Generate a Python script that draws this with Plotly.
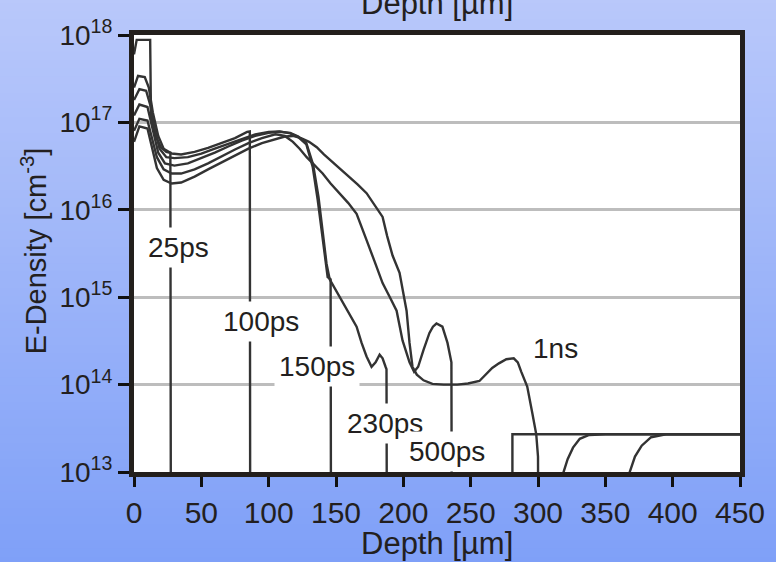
import plotly.graph_objects as go

# ---------------- data ----------------
x_ticks = [0, 50, 100, 150, 200, 250, 300, 350, 400, 450]
y_ticks = [1e13, 1e14, 1e15, 1e16, 1e17, 1e18]
y_tick_text = ["10<sup>13</sup>", "10<sup>14</sup>", "10<sup>15</sup>",
               "10<sup>16</sup>", "10<sup>17</sup>", "10<sup>18</sup>"]

x_25ps = [0, 2, 12, 12.6, 16, 20, 24, 27, 27.4]
y_25ps = [6e17, 8.8e17, 8.8e17, 1.2e17, 7e16, 5.2e16, 4.6e16, 4.5e16, 1e12]

x_100ps = [0, 3, 8, 11, 14, 18, 22, 28, 35, 45, 55, 65, 75, 84, 86, 86.3]
y_100ps = [2.5e17, 3.4e17, 3.3e17, 2.5e17, 1.3e17, 7e16, 5e16, 4.4e16, 4.3e16,
           4.6e16, 5.1e16, 5.8e16, 6.6e16, 7.8e16, 7.9e16, 1e12]

x_150ps = [0, 4, 9, 12, 15, 19, 24, 30, 40, 50, 60, 70, 80, 90, 100, 108, 116,
           122, 128, 132.7, 136.4, 139.4, 142, 143.8, 146, 146.3]
y_150ps = [1.8e17, 2.4e17, 2.3e17, 1.6e17, 9e16, 5e16, 4e16, 3.9e16, 4e16, 4.4e16,
           5e16, 5.7e16, 6.5e16, 7.3e16, 7.8e16, 7.9e16, 7.5e16, 6.8e16, 5.6e16,
           3.1e16, 1.3e16, 5.4e15, 2.5e15, 1.7e15, 1.6e15, 1e12]

x_230ps = [0, 4, 10, 14, 18, 23, 30, 40, 50, 60, 70, 80, 90, 100, 108, 116, 122,
           128, 133, 137, 140, 143, 145.3, 152.7, 159, 165.3, 169, 172.7, 176.4,
           179.4, 182.4, 184.6, 186.8, 187.5, 187.8, None,
           366, 372, 377, 384, 395, 450]
y_230ps = [1.2e17, 1.6e17, 1.5e17, 8e16, 4.5e16, 3.4e16, 3.2e16, 3.4e16, 3.9e16,
           4.5e16, 5.3e16, 6.2e16, 7e16, 7.6e16, 7.8e16, 7.6e16, 6.9e16, 5.8e16,
           3.3e16, 1.4e16, 5.8e15, 2.4e15, 1.6e15, 1e15, 6.8e14, 4.6e14, 3e14,
           2.1e14, 1.6e14, 1.8e14, 2.2e14, 2e14, 1.6e14, 1.5e14, 1e12, None,
           8e12, 1.5e13, 2e13, 2.5e13, 2.7e13, 2.7e13]

x_500ps = [0, 4, 10, 13, 17, 22, 28, 35, 45, 55, 65, 75, 85, 95, 105, 112, 118,
           123, 128.2, 134, 140.1, 146, 152.7, 159, 165.3, 169, 172.7, 178.5,
           184.6, 190, 195, 199.4, 204.6, 208, 211, 215, 219.4, 222, 224.6, 229,
           232.8, 235.7, 236, None, 281, 281, 450]
y_500ps = [8e16, 1.1e17, 1.05e17, 7e16, 4e16, 2.9e16, 2.6e16, 2.6e16, 2.9e16,
           3.4e16, 4.1e16, 4.9e16, 5.8e16, 6.6e16, 7.3e16, 7e16, 6e16, 5e16, 4e16,
           3.2e16, 2.6e16, 2e16, 1.55e16, 1.2e16, 9e15, 6.5e15, 4.5e15, 2.6e15,
           1.45e15, 1e15, 7e14, 3.2e14, 1.8e14, 1.4e14, 1.6e14, 2.5e14, 3.9e14,
           4.6e14, 5e14, 4.6e14, 3e14, 1.8e14, 1e12, None, 1e12, 2.7e13, 2.7e13]

x_1ns = [0, 4, 10, 13, 17, 22, 28, 35, 45, 55, 65, 75, 85, 95, 105, 112, 118, 124,
         130, 135.7, 141, 147.5, 154, 160.1, 166, 172.7, 178.5, 184.6, 188, 192,
         197.2, 202.4, 204.6, 206.8, 210, 215, 221.6, 230, 240, 248, 256.5, 261,
         266, 271, 276.5, 282, 285, 287.6, 292, 295.8, 298.7, 300, 300.3, None,
         317, 322, 326, 331, 338, 350, 450]
y_1ns = [6e16, 9e16, 8.5e16, 5.5e16, 3e16, 2.2e16, 2e16, 2.05e16, 2.4e16, 2.9e16,
         3.5e16, 4.2e16, 5e16, 5.8e16, 6.5e16, 6.9e16, 7e16, 6.6e16, 6e16, 5.2e16,
         4.3e16, 3.5e16, 2.9e16, 2.4e16, 1.95e16, 1.55e16, 1.15e16, 8.3e15, 5e15,
         3e15, 1.9e15, 7e14, 3e14, 1.6e14, 1.3e14, 1.12e14, 1.02e14, 1e14, 1e14,
         1.03e14, 1.1e14, 1.3e14, 1.55e14, 1.75e14, 1.95e14, 2e14, 1.8e14, 1.4e14,
         9.5e13, 4.7e13, 2.7e13, 1.5e13, 1e12, None,
         8e12, 1.4e13, 1.9e13, 2.4e13, 2.65e13, 2.7e13, 2.7e13]

curves = [
    ("25ps", x_25ps, y_25ps),
    ("100ps", x_100ps, y_100ps),
    ("150ps", x_150ps, y_150ps),
    ("230ps", x_230ps, y_230ps),
    ("500ps", x_500ps, y_500ps),
    ("1ns", x_1ns, y_1ns),
]

# label name, x (µm), log10(density)
labels = [("25ps", 33, 15.57), ("100ps", 94.1, 14.72), ("150ps", 135.7, 14.21),
          ("230ps", 186.1, 13.55), ("500ps", 232.4, 13.24), ("1ns", 312.8, 14.41)]

# ---------------- figure ----------------
FONT = "Liberation Sans, Arial, sans-serif"
TXT = "#231f20"

fig = go.Figure()
for name, xs, ys in curves:
    fig.add_trace(go.Scatter(x=xs, y=ys, mode="lines", name=name,
                             line=dict(color="#333333", width=2.4),
                             connectgaps=False, showlegend=False,
                             hoverinfo="skip"))

# gradient background made of thin paper stripes
shapes = []
top_c = (185, 200, 250)
bot_c = (127, 160, 248)
y_top, y_bot = 1.09, -0.215
n = 70
for i in range(n):
    t = i / (n - 1)
    c = tuple(round(top_c[k] + (bot_c[k] - top_c[k]) * t) for k in range(3))
    y1 = y_top + (y_bot - y_top) * i / n
    y0 = y_top + (y_bot - y_top) * (i + 1) / n
    shapes.append(dict(type="rect", xref="paper", yref="paper", x0=-0.25, x1=1.1,
                       y0=y0 - 0.002, y1=y1 + 0.002, layer="below",
                       fillcolor="rgb(%d,%d,%d)" % c, line=dict(width=0)))
shapes.append(dict(type="rect", xref="paper", yref="paper", x0=0, x1=1, y0=0, y1=1,
                   layer="below", fillcolor="white", line=dict(width=0)))

annotations = []
for name, lx, ly in labels:
    annotations.append(dict(x=lx, y=ly, xref="x", yref="y", text=name,
                            showarrow=False, bgcolor="white", borderpad=4,
                            font=dict(family=FONT, size=28, color=TXT)))
annotations.append(dict(x=0.5, y=-0.163, xref="paper", yref="paper",
                        text="Depth [µm]", showarrow=False, yanchor="middle",
                        font=dict(family=FONT, size=31, color=TXT)))
annotations.append(dict(x=0.5, y=1.072, xref="paper", yref="paper",
                        text="Depth [µm]", showarrow=False, yanchor="middle",
                        font=dict(family=FONT, size=31, color=TXT)))
annotations.append(dict(x=-0.165, y=0.505, xref="paper", yref="paper",
                        text="E-Density [cm<sup>-3</sup>]", showarrow=False,
                        textangle=-90, xanchor="center", yanchor="middle",
                        font=dict(family=FONT, size=29, color=TXT)))

fig.update_layout(
    width=776, height=562,
    margin=dict(l=134, r=36, t=35, b=90),
    paper_bgcolor="rgb(156,180,249)",
    plot_bgcolor="white",
    shapes=shapes,
    annotations=annotations,
    font=dict(family=FONT, color=TXT),
)
fig.update_xaxes(range=[0, 450], tickvals=x_ticks, ticks="outside", ticklen=10,
                 tickwidth=3, tickcolor="#111", showgrid=False, zeroline=False,
                 showline=True, linecolor="#231f1c", linewidth=5, mirror=True,
                 tickfont=dict(family=FONT, size=30, color=TXT))
fig.update_yaxes(type="log", range=[13, 18], tickvals=y_ticks, ticktext=y_tick_text,
                 ticks="outside", ticklen=11, tickwidth=3, tickcolor="#111",
                 showgrid=True, gridcolor="#bdbdbd", gridwidth=3, zeroline=False,
                 showline=True, linecolor="#231f1c", linewidth=5, mirror=True,
                 ticklabelstandoff=0,
                 tickfont=dict(family=FONT, size=28, color=TXT))

fig.write_html("out.html")
